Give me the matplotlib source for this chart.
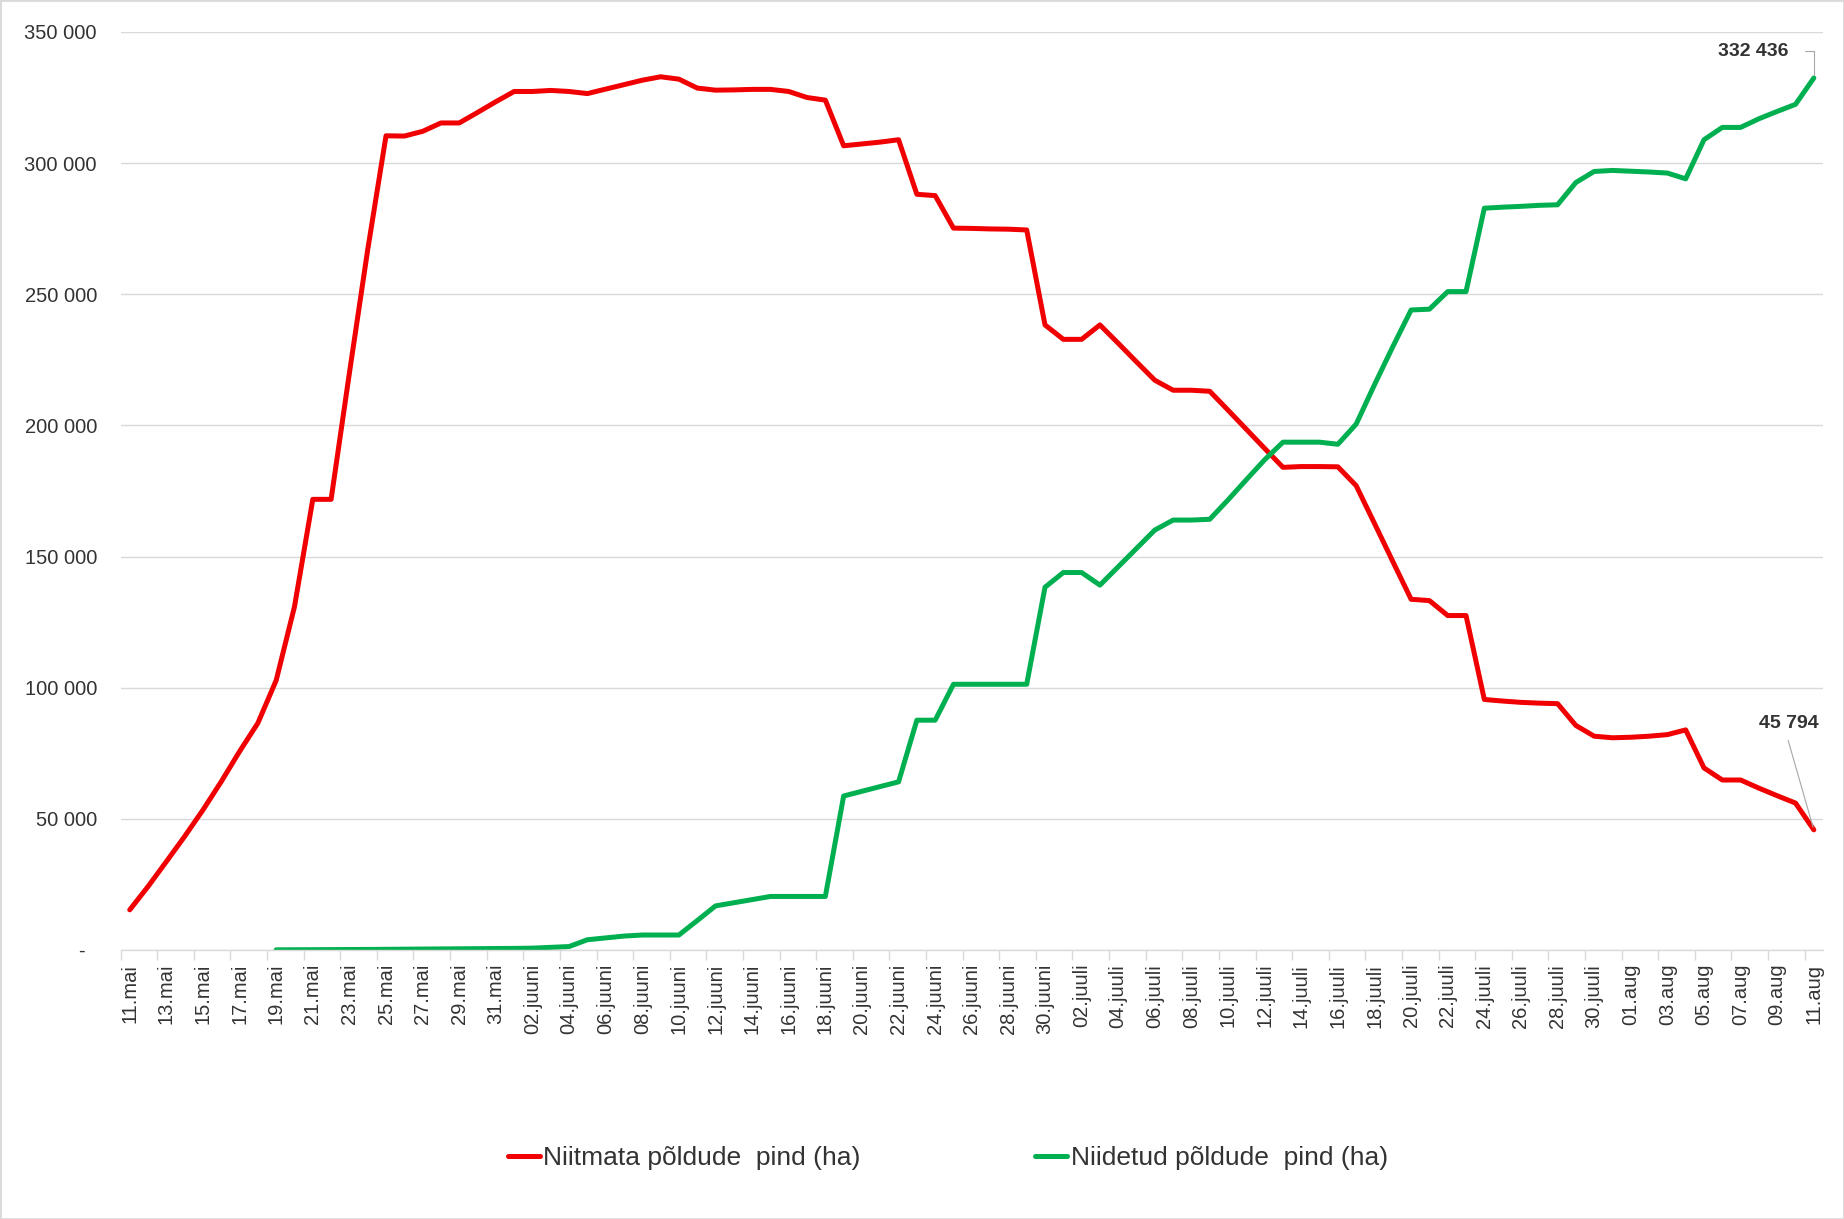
import numpy as np
import matplotlib.pyplot as plt
from matplotlib.ticker import FixedLocator, FuncFormatter
from matplotlib.patches import Rectangle

plt.rcParams['font.family'] = ['Liberation Sans', 'DejaVu Sans']

# daily values, 11.mai ... 11.aug (93 days)
niitmata = [15300, 24200, 33700, 43300, 53400, 64200, 75700, 86500, 102800, 130900,
            171800, 171800, 220000, 267000, 310400, 310300, 312100, 315300, 315300, 319300,
            323400, 327300, 327300, 327700, 327300, 326500, 328200, 329900, 331600, 332900,
            332000, 328600, 327800, 327900, 328100, 328100, 327300, 325000, 324000, 306600,
            307300, 308000, 308900, 288100, 287600, 275200, 275100, 274900, 274800, 274500,
            238300, 232800, 232800, 238300, 231300, 224200, 217200, 213400, 213400, 213000,
            205800, 198500, 191200, 184000, 184300, 184300, 184200, 177000, 162600, 148100,
            133700, 133200, 127500, 127500, 95500, 94900, 94400, 94100, 93900, 85600,
            81500, 80900, 81100, 81500, 82100, 83900, 69400, 64800, 64800, 61700,
            58800, 56000, 45794]

# starts on 19.mai
niidetud = [None] * 8 + [
            50, 80, 110, 140, 170, 200, 250, 300, 350, 400,
            450, 500, 550, 600, 700, 1000, 1300, 3900, 4600, 5300,
            5700, 5700, 5700, 11200, 16800, 18000, 19200, 20400, 20400, 20400,
            20400, 58700, 60500, 62300, 64100, 87600, 87600, 101300, 101300, 101300,
            101300, 101300, 138300, 143900, 143900, 139100, 146100, 153100, 160100, 163900,
            163900, 164200, 171600, 179300, 186900, 193600, 193600, 193600, 192800, 200500,
            215500, 230000, 244000, 244300, 251000, 251000, 282800, 283200, 283500, 283900,
            284100, 292600, 296800, 297200, 296900, 296600, 296200, 294000, 308900, 313600,
            313600, 316900, 319700, 322400, 332436]

tick_labels = ['11.mai', '13.mai', '15.mai', '17.mai', '19.mai', '21.mai', '23.mai',
               '25.mai', '27.mai', '29.mai', '31.mai',
               '02.juuni', '04.juuni', '06.juuni', '08.juuni', '10.juuni', '12.juuni',
               '14.juuni', '16.juuni', '18.juuni', '20.juuni', '22.juuni', '24.juuni',
               '26.juuni', '28.juuni', '30.juuni',
               '02.juuli', '04.juuli', '06.juuli', '08.juuli', '10.juuli', '12.juuli',
               '14.juuli', '16.juuli', '18.juuli', '20.juuli', '22.juuli', '24.juuli',
               '26.juuli', '28.juuli', '30.juuli',
               '01.aug', '03.aug', '05.aug', '07.aug', '09.aug', '11.aug']

red = '#F00000'
green = '#00B050'
text_col = '#333333'
grid_col = '#D9D9D9'

x = np.arange(len(niitmata))
green_y = np.array([np.nan if v is None else v for v in niidetud], dtype=float)

fig = plt.figure(figsize=(18.44, 12.19), dpi=100)
ax = fig.add_axes([0.0654, 0.2207, 0.9232, 0.7531])

l1, = ax.plot(x, niitmata, color=red, lw=3.6, solid_joinstyle='round',
              solid_capstyle='round', label='Niitmata põldude  pind (ha)')
l2, = ax.plot(x, green_y, color=green, lw=3.6, solid_joinstyle='round',
              solid_capstyle='round', label='Niidetud põldude  pind (ha)')

ax.set_xlim(-0.5, len(x) - 0.5)
ax.set_ylim(0, 350000)
ax.set_yticks(np.arange(0, 350001, 50000))
ax.yaxis.set_major_formatter(FuncFormatter(
    lambda v, p: '-  ' if v == 0 else f"{int(v):,}".replace(',', ' ')))
ax.grid(axis='y', color=grid_col, lw=1)
ax.set_axisbelow(True)

ax.set_xticks(x[::2])
ax.set_xticklabels(tick_labels, rotation=90)
ax.xaxis.set_minor_locator(FixedLocator(np.arange(-0.5, len(x) - 1, 2)))
ax.tick_params(axis='x', which='major', length=0, pad=10, labelsize=14.5, labelcolor=text_col)
ax.tick_params(axis='x', which='minor', length=7, color=grid_col, width=1)
ax.tick_params(axis='y', length=0, pad=17, labelsize=14.5, labelcolor=text_col)

for s in ['top', 'right', 'left']:
    ax.spines[s].set_visible(False)
ax.spines['bottom'].set_color(grid_col)
ax.spines['bottom'].set_linewidth(1)

# end labels
last = len(x) - 1
ax.annotate(f"{niidetud[-1]:,}".replace(',', ' '), xy=(last, niidetud[-1]),
            xytext=(-61, 27), textcoords='offset pixels', ha='center', va='center',
            fontsize=14, fontweight='bold', color=text_col,
            arrowprops=dict(arrowstyle='-', color='#A6A6A6', lw=0.8, relpos=(1, 0.5),
                            shrinkA=10, shrinkB=2,
                            connectionstyle='angle,angleA=0,angleB=90,rad=0'))
ax.annotate(f"{niitmata[-1]:,}".replace(',', ' '), xy=(last, niitmata[-1]),
            xytext=(-25, 106), textcoords='offset pixels', ha='center', va='center',
            fontsize=14, fontweight='bold', color=text_col,
            arrowprops=dict(arrowstyle='-', color='#A6A6A6', lw=0.8, relpos=(0.45, 0),
                            shrinkA=4, shrinkB=2))

fig.legend(handles=[l1, l2], loc='center', bbox_to_anchor=(0.514, 0.05), ncol=2,
           frameon=False, fontsize=19, labelcolor=text_col, handlelength=1.2,
           handletextpad=0.15, columnspacing=6.6)

fig.patches.append(Rectangle((0, 0), 1, 1, transform=fig.transFigure, fill=False,
                             edgecolor=grid_col, lw=2))

fig.savefig('out.png', dpi=100)
